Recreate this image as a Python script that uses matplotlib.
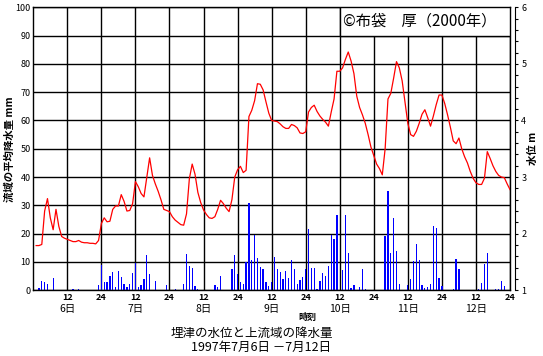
import matplotlib.pyplot as plt
from matplotlib.patches import Rectangle
from matplotlib.transforms import blended_transform_factory
import numpy as np

plt.rcParams['font.family'] = ['Noto Sans CJK JP', 'DejaVu Sans']

# hourly data, hour 1 .. 168 from 0:00 on 6 July
hours = np.arange(1, 169)

# water level (m)
level = [1.79, 1.79, 1.81, 2.40, 2.62, 2.28, 2.07, 2.43, 2.13, 1.95, 1.92, 1.90,
         1.88, 1.86, 1.86, 1.88, 1.85, 1.84, 1.84, 1.83, 1.83, 1.82, 1.88, 2.18,
         2.28, 2.21, 2.22, 2.43, 2.49, 2.49, 2.69, 2.57, 2.40, 2.41, 2.53, 2.92,
         2.83, 2.71, 2.65, 3.00, 3.34, 3.03, 2.88, 2.75, 2.60, 2.43, 2.41, 2.39,
         2.30, 2.24, 2.20, 2.16, 2.15, 2.35, 2.97, 3.23, 3.05, 2.73, 2.55, 2.42,
         2.34, 2.28, 2.27, 2.30, 2.43, 2.59, 2.53, 2.45, 2.39, 2.60, 3.00, 3.13,
         3.19, 3.08, 3.12, 4.07, 4.18, 4.35, 4.65, 4.64, 4.54, 4.33, 4.13, 4.00,
         3.99, 3.98, 3.94, 3.89, 3.86, 3.86, 3.93, 3.91, 3.87, 3.78, 3.77, 3.80,
         4.15, 4.23, 4.27, 4.16, 4.08, 4.02, 3.97, 3.90, 4.15, 4.38, 4.87, 4.87,
         4.93, 5.08, 5.21, 5.05, 4.83, 4.43, 4.23, 4.10, 3.95, 3.75, 3.53, 3.38,
         3.23, 3.15, 3.04, 3.50, 4.38, 4.48, 4.75, 5.04, 4.93, 4.70, 4.33, 3.95,
         3.75, 3.72, 3.81, 3.95, 4.11, 4.19, 4.05, 3.90, 4.08, 4.28, 4.45, 4.45,
         4.30, 4.10, 3.88, 3.64, 3.59, 3.69, 3.50, 3.36, 3.25, 3.10, 2.98, 2.90,
         2.87, 2.87, 2.98, 3.45, 3.33, 3.20, 3.10, 3.03, 3.00, 2.99, 2.88, 2.78]

# basin mean rainfall (mm)
rain = [0, 0.8, 3.3, 3.0, 2.3, 0, 4.4, 0, 0, 0, 0, 0,
        0, 0.3, 0, 0.3, 0, 0, 0, 0.2, 0, 0, 1.8, 8.8,
        3.0, 3.0, 5.1, 6.5, 1.2, 6.9, 4.8, 2.3, 1.2, 2.2, 6.2, 9.5,
        1.2, 1.8, 4.0, 12.5, 5.7, 0, 3.2, 0, 0, 0, 1.8, 0,
        0, 0.3, 0, 0, 2.1, 12.9, 8.6, 8.0, 1.5, 0.5, 0, 0,
        0, 0, 0, 1.9, 1.2, 5.1, 0, 0, 0, 7.6, 12.3, 5.9,
        3.0, 2.2, 10.0, 30.7, 10.8, 19.4, 11.5, 8.3, 7.5, 2.9, 1.5, 2.8,
        11.8, 7.5, 6.5, 4.0, 6.8, 4.4, 10.7, 7.5, 2.2, 3.6, 4.7, 7.5,
        21.7, 7.9, 7.9, 0.5, 3.3, 6.1, 5.2, 8.6, 19.5, 18.1, 26.6, 0,
        7.2, 26.6, 13.2, 0.8, 1.9, 0, 1.2, 7.5, 0.5, 0, 0, 0,
        0, 0.2, 0, 19.2, 35.0, 13.3, 25.6, 13.9, 2.2, 0, 0, 1.8,
        4.0, 10.4, 16.4, 10.7, 1.9, 0.8, 1.2, 2.2, 22.7, 22.0, 4.4, 1.5,
        0.2, 0, 0, 0.5, 11.1, 7.5, 0.2, 0, 0, 0, 0, 0,
        0.4, 2.6, 9.3, 13.2, 0, 0, 0.5, 0.5, 3.3, 1.5, 0, 0]

tick_hours = list(range(12, 169, 12))
tick_labels = ['12', '24'] * 7
day_hours = [12, 36, 60, 84, 108, 132, 156]
day_labels = ['6日', '7日', '8日', '9日', '10日', '11日', '12日']

fig = plt.figure(figsize=(5.43, 3.56), dpi=100)
ax = fig.add_axes([0.0613, 0.1846, 0.8779, 0.7949])

ax.bar(hours, rain, width=0.45, color='#0000ff', linewidth=0, zorder=2)
ax.set_xlim(0, 168)
ax.set_ylim(0, 100)
ax.set_xticks(tick_hours)
ax.set_xticklabels(tick_labels, fontweight='bold')
ax.set_yticks(range(0, 101, 10))
ax.tick_params(length=0, pad=2, labelsize=6.5)
ax.grid(True, color='black', lw=1.0)
ax.set_axisbelow(True)
for s in ax.spines.values():
    s.set_color('black')
    s.set_linewidth(1.0)

# day labels under the time ticks
trans = blended_transform_factory(ax.transData, ax.transAxes)
for h, lab in zip(day_hours, day_labels):
    ax.text(h, -0.066, lab, transform=trans, ha='center', va='center',
            fontsize=7.5)

# copyright box
ax.add_patch(Rectangle((108, 90), 60, 10, facecolor='white',
                       edgecolor='black', lw=1.0, zorder=3))
ax.text(109.3, 95.3, '©布袋　厚（2000年）', fontsize=11, va='center',
        ha='left', zorder=4)

# water level on the right axis
ax2 = ax.twinx()
ax2.plot(hours, level, color='red', lw=0.9)
ax2.set_ylim(1, 6)
ax2.set_yticks(range(1, 7))
ax2.set_yticks(np.arange(1, 6.01, 0.2), minor=True)
ax2.spines['right'].set_position(('outward', 3.6))
for side in ['left', 'top', 'bottom']:
    ax2.spines[side].set_visible(False)
ax2.tick_params(axis='y', which='both', direction='out', length=2.5,
                width=0.8, pad=2, labelsize=6.5)

fig.text(10 / 543, 1 - 149 / 356, '流域の平均降水量 mm', rotation=90,
         ha='center', va='center', fontsize=7.5, fontweight='bold')
fig.text(533 / 543, 1 - 148 / 356, '水位 m', rotation=90,
         ha='center', va='center', fontsize=7.5, fontweight='bold')
fig.text(307 / 543, 1 - 317 / 356, '時刻', ha='center', va='center',
         fontsize=6.5, fontweight='bold')
fig.text(252 / 543, 1 - 333 / 356, '埋津の水位と上流域の降水量',
         ha='center', va='center', fontsize=9)
fig.text(261 / 543, 1 - 347 / 356, '1997年7月6日 －7月12日',
         ha='center', va='center', fontsize=9)

fig.savefig('out.png', dpi=100)
